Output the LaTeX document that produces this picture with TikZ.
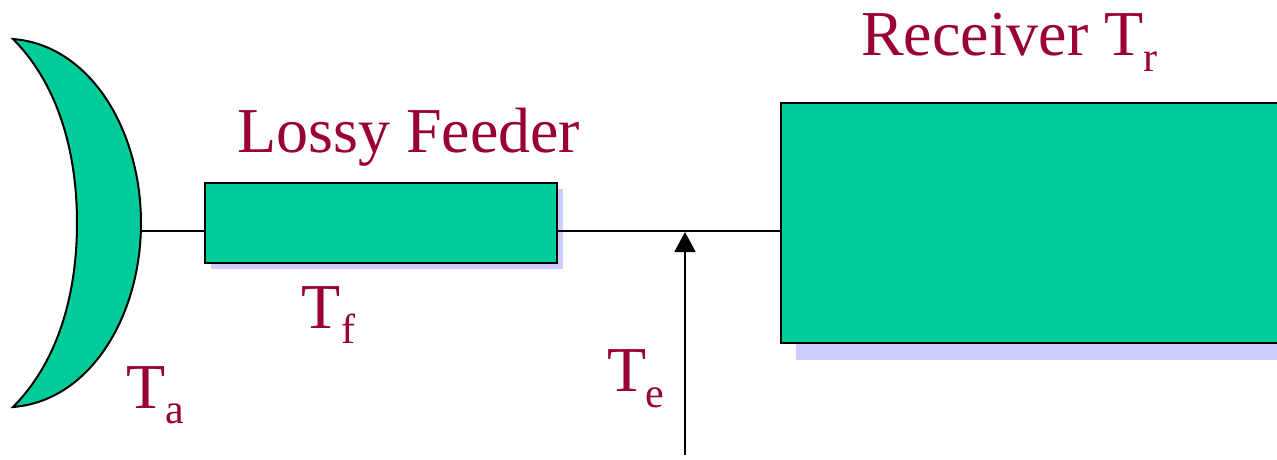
\documentclass[tikz,border=0pt]{standalone}
\usepackage{fontspec}
\setmainfont{Liberation Serif}
\usetikzlibrary{arrows.meta}
\definecolor{boxgreen}{RGB}{0,204,153}
\definecolor{shadowc}{RGB}{204,204,255}
\definecolor{labelc}{RGB}{153,0,51}
\tikzset{
 x=1pt,y=-1pt,
 greenbox/.style={draw=black,fill=boxgreen,line width=2pt,inner sep=0pt,anchor=north west},
 shadowbox/.style={fill=shadowc,draw=none,inner sep=0pt,anchor=north west},
 wire/.style={draw=black,line width=2pt},
 lab/.style={text=labelc,font=\fontsize{64}{68}\selectfont,inner sep=0pt,anchor=base west},
 sublab/.style={text=labelc,font=\fontsize{42}{46}\selectfont,inner sep=0pt,anchor=base west}
}
\begin{document}
\begin{tikzpicture}
\useasboundingbox (0,0) rectangle (1277,459);
\node[shadowbox,minimum width=352,minimum height=80] (fs) at (211,189) {};
\node[shadowbox,minimum width=481,minimum height=241] (rs) at (796,119) {};
\node[greenbox,minimum width=352,minimum height=80] (feeder) at (204,182) {};
\node[greenbox,minimum width=500,minimum height=240] (rx) at (780,102) {};
\coordinate (dishR) at (141,231);
\coordinate (tip) at (685,232);
\coordinate (bot) at (685,455);
\coordinate (wireY) at (0,231);
\draw[greenbox] (13,39) .. controls (90,45) and (141,130) .. (141,223)
   .. controls (141,316) and (90,401) .. (13,407)
   .. controls (55,365) and (77,300) .. (77,223)
   .. controls (77,146) and (55,81) .. (13,39) -- cycle;
\draw[wire] (dishR) -- (feeder.west |- wireY);
\draw[wire] (feeder.east |- wireY) -- (rx.west |- wireY);
\draw[wire,-{Triangle[length=20,width=21]}] (bot) -- (tip);
\node[lab] (t1) at (237,152) {Lossy Feeder};
\node[lab] (t2) at (861,55) {Receiver T};
\node[sublab] (t2s) at (1143,71) {r};
\node[lab] (t3) at (301,328) {T};
\node[sublab] (t3s) at (341,343) {f};
\node[lab] (t4) at (126,408) {T};
\node[sublab] (t4s) at (165,423) {a};
\node[lab] (t5) at (607,391) {T};
\node[sublab] (t5s) at (645,407) {e};
\end{tikzpicture}
\end{document}
